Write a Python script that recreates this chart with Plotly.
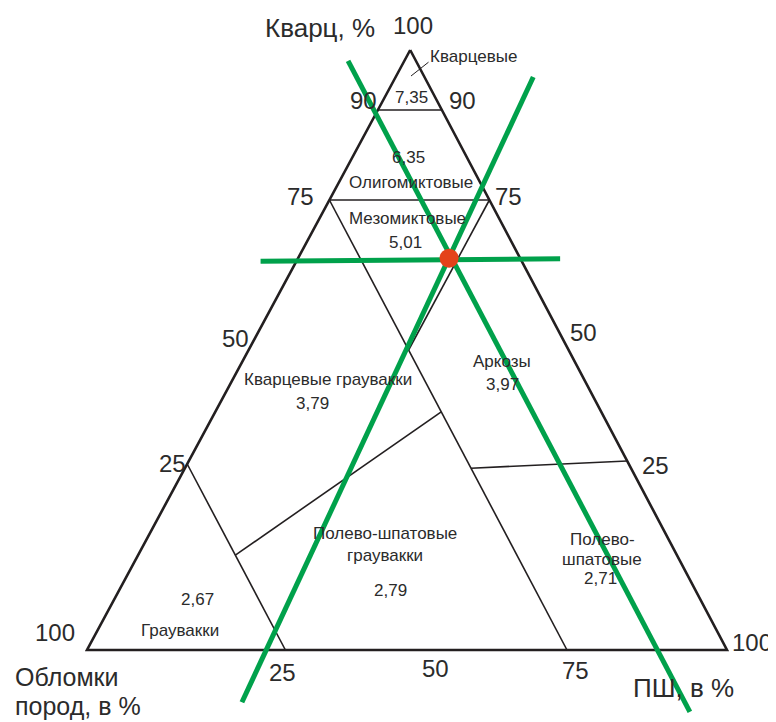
import plotly.graph_objects as go

# ---------------- data (ternary percentages: Q = кварц, F = ПШ, R = обломки = 100-Q-F) -------------
outline_Q = [100, 0, 0, 100]
outline_F = [0, 0, 100, 0]

# inner classification boundaries: (Q1, F1, Q2, F2)
boundary_segments = [
    (90, 0, 90, 10),        # Q = 90
    (75, 0, 75, 25),        # Q = 75
    (75, 0, 0, 75),         # R = 25
    (75, 25, 50, 25),       # F = 25
    (31, 0, 0, 31),         # R ~ 69 (граувакки)
    (30.3, 44.7, 31.5, 68.5),   # аркозы / полевошпатовые
    (39.7, 35.3, 15.8, 15.2),   # кварцевые / полевошпатовые граувакки
]

# green construction lines through the sample point: (Q1, F1, Q2, F2)
green_segments = [
    (64.8, -5.6, 65.2, 41.0),
    (98.2, -8.8, -10.3, 99.4),
    (95.5, 21.5, -8.7, 28.6),
]

sample_Q = [65.3]
sample_F = [23.6]

# region names and coefficients
region_labels = ["Кварцевые", "7,35", "6,35", "Олигомиктовые", "Мезомиктовые", "5,01",
                 "Кварцевые граувакки", "3,79", "Аркозы", "3,97",
                 "Полево-шпатовые", "граувакки", "2,79",
                 "Полево-", "шпатовые", "2,71", "2,67", "Граувакки"]
axis_tick_labels = ["100", "90", "90", "75", "75", "50", "50", "25", "25",
                    "100", "100", "25", "50", "75"]
axis_titles = ["Кварц, %", "Обломки", "пород, в %", "ПШ, в %"]

# ---------------- geometry / layout ----------------
APEX_X = 0.505
PAGE_W, PAGE_H = 776, 722
BODY_MARGIN = 8
W, H = PAGE_W - BODY_MARGIN, PAGE_H - BODY_MARGIN
X0_PX, BASE_PX, SX, SY = 87, 650, 640, 600


def tern(q, f):
    q = [v / 100 for v in q]
    f = [v / 100 for v in f]
    return [fi + qi * APEX_X for qi, fi in zip(q, f)], q


def px(x, y):
    return (x - X0_PX) / SX, (BASE_PX - y) / SY


fig = go.Figure()

LINE_COL = "#231f20"
x, y = tern(outline_Q, outline_F)
fig.add_trace(go.Scatter(x=x, y=y, mode="lines", line=dict(color=LINE_COL, width=2.6),
                         hoverinfo="skip", showlegend=False))
for q1, f1, q2, f2 in boundary_segments:
    x, y = tern([q1, q2], [f1, f2])
    fig.add_trace(go.Scatter(x=x, y=y, mode="lines", line=dict(color=LINE_COL, width=1.6),
                             hoverinfo="skip", showlegend=False))
for q1, f1, q2, f2 in green_segments:
    x, y = tern([q1, q2], [f1, f2])
    fig.add_trace(go.Scatter(x=x, y=y, mode="lines", line=dict(color="#00A14B", width=5),
                             hoverinfo="skip", showlegend=False))
x, y = tern(sample_Q, sample_F)
fig.add_trace(go.Scatter(x=x, y=y, mode="markers",
                         marker=dict(color="#E4421A", size=19, line=dict(width=0)),
                         hoverinfo="skip", showlegend=False))

FONT = "Liberation Sans, Arial, sans-serif"
TXT = "#2b2b2b"
annotations = []


def add_text(text, xp, yp, size, xanchor="center"):
    ax_, ay_ = px(xp, yp)
    annotations.append(dict(x=ax_, y=ay_, text=text, showarrow=False, xanchor=xanchor,
                            yanchor="middle", font=dict(family=FONT, size=size, color=TXT)))


small_pos = [(473, 56), (411, 97), (408, 157), (411, 182), (407, 218), (405, 242),
             (328, 379), (312, 403), (502, 361), (502, 384),
             (385, 533), (385, 555), (390, 590),
             (602, 539), (602, 559), (600, 578), (197, 599), (180, 630)]
for t, (xp, yp) in zip(region_labels, small_pos):
    add_text(t, xp, yp, 17)

big_pos = [(413, 25), (363, 100), (462, 100), (300, 196), (508, 196), (235, 338), (583, 332),
           (172, 463), (655, 465), (55, 632), (752, 642), (282, 672), (435, 668), (575, 670)]
for t, (xp, yp) in zip(axis_tick_labels, big_pos):
    add_text(t, xp, yp, 24)

add_text(axis_titles[0], 320, 28, 26)
add_text(axis_titles[1], 13, 677, 25, xanchor="left")
add_text(axis_titles[2], 13, 706, 25, xanchor="left")
add_text(axis_titles[3], 683, 688, 26)

# leader line for "Кварцевые"
tx, ty = px(411, 76)
hx, hy = px(430, 61)
annotations.append(dict(x=tx, y=ty, ax=hx, ay=hy, axref="x", ayref="y", text="",
                        showarrow=True, arrowhead=0, arrowwidth=1, arrowcolor=LINE_COL))

# page pixel p is drawn at figure pixel p - BODY_MARGIN
xr0, _ = px(BODY_MARGIN, 0)
xr1, _ = px(PAGE_W, 0)
_, yr0 = px(0, PAGE_H)
_, yr1 = px(0, BODY_MARGIN)
fig.update_layout(
    width=W, height=H, margin=dict(l=0, r=0, t=0, b=0),
    paper_bgcolor="white", plot_bgcolor="white",
    xaxis=dict(range=[xr0, xr1], visible=False, fixedrange=True),
    yaxis=dict(range=[yr0, yr1], visible=False, fixedrange=True),
    annotations=annotations,
)

fig.write_html("out.html")
